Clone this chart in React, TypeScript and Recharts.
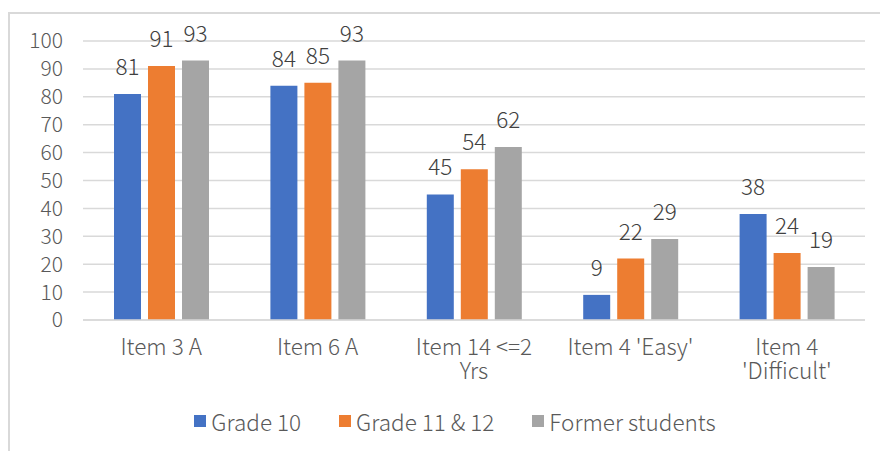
import { BarChart, Bar, XAxis, YAxis, CartesianGrid, Legend, LabelList } from "recharts";

const categories = ["Item 3 A", "Item 6 A", "Item 14 <=2\nYrs", "Item 4 'Easy'", "Item 4\n'Difficult'"];
const grade10 = [81, 84, 45, 9, 38];
const grade11And12 = [91, 85, 54, 22, 24];
const formerStudents = [93, 93, 62, 29, 19];
const yTicks = [0, 10, 20, 30, 40, 50, 60, 70, 80, 90, 100];

const series = [
  { key: "grade10", name: "Grade 10", color: "#4472C4" },
  { key: "grade11", name: "Grade 11 & 12", color: "#ED7D31" },
  { key: "former", name: "Former students", color: "#A5A5A5" },
];

const data = categories.map((name, i) => ({
  name,
  grade10: grade10[i],
  grade11: grade11And12[i],
  former: formerStudents[i],
}));

const FONT = "'Noto Sans CJK SC', 'Noto Sans', sans-serif";
const WEIGHT = 300;
const SIZE = 22.5;
const AXIS_COLOR = "#595959";

// two-line category labels, split on "\n"
const CategoryTick = (props: any) => {
  const { x, y, payload } = props;
  const lines = String(payload.value).split("\n");
  return (
    <g>
      {lines.map((line, i) => (
        <text
          key={i}
          x={x}
          y={y + 35 + i * 24}
          textAnchor="middle"
          fill={AXIS_COLOR}
          fontSize={SIZE}
          fontFamily={FONT}
          fontWeight={WEIGHT}
        >
          {line}
        </text>
      ))}
    </g>
  );
};

const LegendContent = () => (
  <div
    style={{
      height: 30,
      display: "flex",
      justifyContent: "center",
      alignItems: "center",
      fontFamily: FONT,
      fontWeight: WEIGHT,
      fontSize: SIZE,
      color: AXIS_COLOR,
    }}
  >
    {series.map((s, i) => (
      <div key={s.key} style={{ display: "flex", alignItems: "center", marginLeft: i === 0 ? 0 : 38 }}>
        <span style={{ width: 12, height: 12, background: s.color, marginRight: 5, display: "inline-block" }} />
        <span>{s.name}</span>
      </div>
    ))}
  </div>
);

const App = () => {
  return (
    <div style={{ position: "absolute", left: 0, top: 0, width: 880, height: 451, overflow: "hidden", background: "#fff" }}>
      <div
        style={{
          position: "absolute",
          left: 8,
          top: 12,
          width: 900,
          height: 470,
          border: "2px solid #d9d9d9",
        }}
      />
      <div style={{ position: "absolute", left: 0, top: 0 }}>
        <BarChart
          width={880}
          height={451}
          data={data}
          margin={{ top: 41, right: 15, left: 0, bottom: 0 }}
          barGap={7}
          barSize={27}
        >
          <CartesianGrid vertical={false} stroke="#d9d9d9" strokeWidth={1.5} />
          <XAxis
            dataKey="name"
            height={101}
            tickLine={false}
            tickSize={0}
            tickMargin={0}
            axisLine={{ stroke: "#d9d9d9", strokeWidth: 1.5 }}
            tick={<CategoryTick />}
            interval={0}
          />
          <YAxis
            width={83}
            domain={[0, 100]}
            ticks={yTicks}
            interval={0}
            axisLine={false}
            tickLine={false}
            tickSize={0}
            tickMargin={20}
            tick={{ fill: AXIS_COLOR, fontSize: 21, fontFamily: FONT, fontWeight: WEIGHT }}
          />
          <Legend
            verticalAlign="bottom"
            content={<LegendContent />}
            wrapperStyle={{ top: 406, left: 15, width: 880 }}
          />
          {series.map((s) => (
            <Bar key={s.key} dataKey={s.key} name={s.name} fill={s.color} isAnimationActive={false}>
              <LabelList
                dataKey={s.key}
                position="top"
                offset={19}
                fill="#404040"
                fontSize={SIZE}
                fontFamily={FONT}
                fontWeight={WEIGHT}
              />
            </Bar>
          ))}
        </BarChart>
      </div>
    </div>
  );
};

export default App;
